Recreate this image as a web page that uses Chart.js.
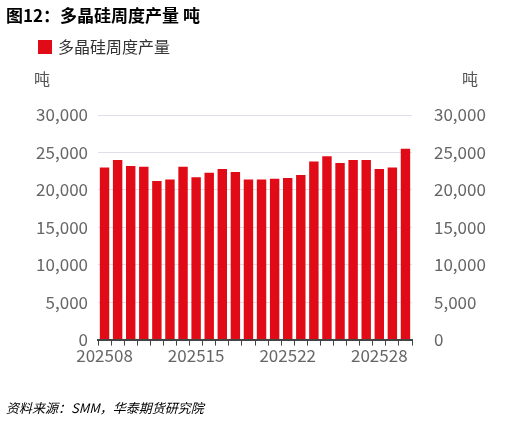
<!DOCTYPE html>
<html><head><meta charset="utf-8">
<script src="https://cdn.jsdelivr.net/npm/chart.js@4"></script>
<style>
body{margin:0;width:519px;height:426px;background:#fff;font-family:"Noto Sans CJK SC","Noto Sans",sans-serif;position:relative;overflow:hidden}
#title{position:absolute;left:6px;top:2px;font-size:17px;font-weight:bold;color:#000}
#legend{position:absolute;left:38px;top:34px;font-size:16px;color:#333}
#legend i{display:inline-block;width:14px;height:14px;background:#e00b16;vertical-align:-1px;margin-right:6px}
#src{position:absolute;left:6px;top:398px;font-size:13px;font-style:italic;color:#000}
canvas{position:absolute;left:0;top:0}
</style></head><body>
<canvas id="c" width="519" height="426"></canvas>
<div id="title">图12：多晶硅周度产量 吨</div>
<div id="legend"><i></i>多晶硅周度产量</div>
<div id="src">资料来源：SMM，华泰期货研究院</div>
<script>
// weekly categories, only every 7th one is labelled
const weeks = ["202508","202509","202510","202511","202512","202513","202514",
  "202515","202516","202517","202518","202519","202520","202521",
  "202522","202523","202524","202525","202526","202527","202527b",
  "202528","202529","202530"];
const shownWeeks = {0:"202508",7:"202515",14:"202522",21:"202528"};
const output = [23000,24000,23200,23100,21200,21400,23100,21700,22300,22800,22400,21400,
  21400,21500,21600,22000,23800,24500,23600,24000,24000,22800,23000,25500];
const yTicks = [0,5000,10000,15000,20000,25000,30000];

const tickFont = {family:"Noto Sans CJK SC", size:17};
const unitPlugin = {
  id:"unit",
  afterDraw(chart){
    const ctx = chart.ctx, a = chart.chartArea;
    ctx.save();
    ctx.font = "16px 'Noto Sans CJK SC'";
    ctx.fillStyle = "#555";
    ctx.textAlign = "center";
    ctx.fillText("吨", 42, a.top - 30);
    ctx.fillText("吨", 470, a.top - 30);
    ctx.restore();
  }
};
new Chart(document.getElementById("c"), {
  type:"bar",
  data:{labels:weeks, datasets:[{label:"多晶硅周度产量", data:output,
    backgroundColor:"#e00b16", categoryPercentage:0.72, barPercentage:1}]},
  options:{
    responsive:false, animation:false,
    layout:{padding:{left:0,right:0,top:115,bottom:60}},
    plugins:{legend:{display:false}, tooltip:{enabled:false}},
    scales:{
      x:{grid:{display:true, drawOnChartArea:false, tickLength:6, color:"#444", offset:true},
        border:{color:"#444", width:2},
        ticks:{autoSkip:false, maxRotation:0, color:"#666", font:tickFont, padding:0,
          callback:(v,i)=>shownWeeks[i] || ""}},
      y:{min:0,max:30000, afterBuildTicks:s=>{s.ticks=yTicks.map(v=>({value:v}))},
        afterFit:s=>{s.width=98},
        grid:{color:"#dde0ea", drawTicks:false}, border:{display:false},
        ticks:{color:"#666", font:tickFont, padding:10, callback:v=>v.toLocaleString("en-US")}},
      y2:{position:"right", min:0,max:30000, afterBuildTicks:s=>{s.ticks=yTicks.map(v=>({value:v}))},
        afterFit:s=>{s.width=107},
        grid:{display:false}, border:{display:false},
        ticks:{color:"#666", font:tickFont, padding:14, callback:v=>v.toLocaleString("en-US")}}
    }
  },
  plugins:[unitPlugin]
});
</script></body></html>
